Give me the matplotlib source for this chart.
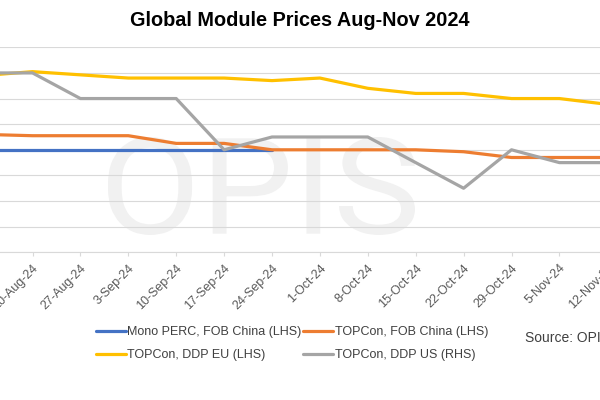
import numpy as np
import matplotlib
matplotlib.use("Agg")
import matplotlib.pyplot as plt
from matplotlib.textpath import TextPath
from matplotlib.patches import PathPatch
from matplotlib.font_manager import FontProperties
from matplotlib.transforms import Affine2D

plt.rcParams['font.family'] = ['Liberation Sans', 'DejaVu Sans']

# weekly assessment dates
dates = ['13-Aug-24', '20-Aug-24', '27-Aug-24', '3-Sep-24', '10-Sep-24', '17-Sep-24',
         '24-Sep-24', '1-Oct-24', '8-Oct-24', '15-Oct-24', '22-Oct-24', '29-Oct-24',
         '5-Nov-24', '12-Nov-24']

# LHS series
mono_perc_fob = [0.080, 0.080, 0.080, 0.080, 0.080, 0.080, 0.080,
                 np.nan, np.nan, np.nan, np.nan, np.nan, np.nan, np.nan]
topcon_fob = [0.092, 0.091, 0.091, 0.091, 0.085, 0.085, 0.080,
              0.080, 0.080, 0.080, 0.0785, 0.074, 0.074, 0.074]
topcon_ddp_eu = [0.138, 0.141, 0.1385, 0.136, 0.136, 0.136, 0.134,
                 0.136, 0.128, 0.124, 0.124, 0.120, 0.120, 0.1155]
# RHS series
topcon_ddp_us = [0.34, 0.34, 0.32, 0.32, 0.32, 0.28, 0.29,
                 0.29, 0.29, 0.27, 0.25, 0.28, 0.27, 0.27]

lhs_ticks = np.arange(0, 0.161, 0.02)
rhs_ticks = np.arange(0.20, 0.361, 0.02)

fig = plt.figure(figsize=(6, 4), dpi=100)
W, H = 600, 400

# plot area in pixels (the chart is cropped on both sides)
x0_px = -15.4 - 23.95
x1_px = -15.4 + 13.5 * 47.9
ytop_px, ybot_px = 47.3, 252.3
ax = fig.add_axes([x0_px / W, 1 - ybot_px / H, (x1_px - x0_px) / W, (ybot_px - ytop_px) / H])
ax2 = ax.twinx()

x = np.arange(len(dates))
ax.plot(x, mono_perc_fob, color='#4472C4', lw=2.3, solid_capstyle='round', zorder=2)
ax.plot(x, topcon_fob, color='#ED7D31', lw=2.3, solid_capstyle='round', zorder=3)
ax.plot(x, topcon_ddp_eu, color='#FFC000', lw=2.3, solid_capstyle='round', zorder=4)
ax2.plot(x, topcon_ddp_us, color='#A5A5A5', lw=2.3, solid_capstyle='round', zorder=2)

ax.set_xlim(-0.5, 13.5)
ax.set_ylim(0, 0.16)
ax2.set_ylim(0.20, 0.36)
ax.set_yticks(lhs_ticks)
ax2.set_yticks(rhs_ticks)
ax.set_axisbelow(True)
ax.grid(axis='y', color='#D9D9D9', lw=0.8, zorder=0.5)

for a in (ax, ax2):
    for s in ['top', 'left', 'right']:
        a.spines[s].set_visible(False)
    a.tick_params(axis='y', length=0)
ax2.spines['bottom'].set_visible(False)
ax.spines['bottom'].set_color('#D9D9D9')
ax.spines['bottom'].set_linewidth(0.8)

ax.set_xticks(x)
ax.set_xticklabels(dates, rotation=45, ha='right', rotation_mode='anchor',
                   fontsize=9, color='#595959')
ax.tick_params(axis='x', length=3, color='#D9D9D9', width=0.8, pad=4)

# watermark, stretched to fit its box (pixels: x 108-415, y 137-235)
tp = TextPath((0, 0), 'OPIS', size=100, prop=FontProperties(family='Roboto'))
bb = tp.get_extents()
bx0, bx1, by0, by1 = 108 / W, 415 / W, 1 - 235 / H, 1 - 137 / H
wm_tr = (Affine2D().translate(-bb.x0, -bb.y0)
         .scale((bx1 - bx0) / bb.width, (by1 - by0) / bb.height)
         .translate(bx0, by0) + fig.transFigure)
ax.add_patch(PathPatch(tp, transform=wm_tr, facecolor='#F1F1F1', edgecolor='none',
                       zorder=0.2, clip_on=False))

fig.text(0.5, 1 - 21 / H, 'Global Module Prices Aug-Nov 2024', ha='center', va='center',
         fontsize=14.3, fontweight='bold', color='#000000')

lines = ax.get_lines() + ax2.get_lines()
labels = ['Mono PERC, FOB China (LHS)', 'TOPCon, FOB China (LHS)',
          'TOPCon, DDP EU (LHS)', 'TOPCon, DDP US (RHS)']
order = [0, 2, 1, 3]
fig.legend([lines[i] for i in order], [labels[i] for i in order], ncol=2,
           loc='upper left', bbox_to_anchor=(96 / W, 1 - 326 / H), frameon=False,
           fontsize=9, handlelength=2.4, handletextpad=0.1, columnspacing=0.15,
           labelspacing=0.87, borderpad=0, borderaxespad=0, labelcolor='#404040')

fig.text(525 / W, 1 - 338 / H, 'Source: OPIS', ha='left', va='center',
         fontsize=10, color='#404040')

fig.savefig('out.png', dpi=100)
